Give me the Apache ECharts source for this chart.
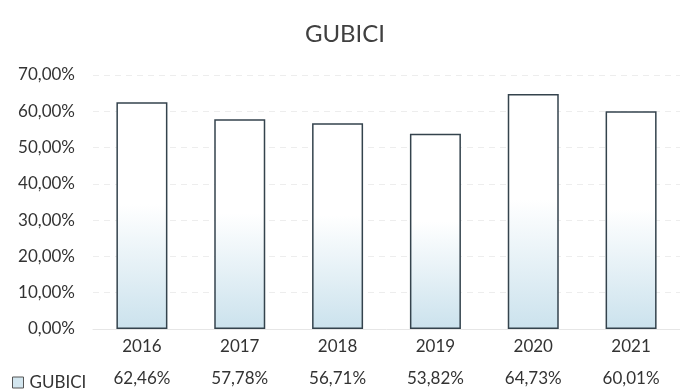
<!DOCTYPE html>
<html><head><meta charset="utf-8">
<script src="https://cdn.jsdelivr.net/npm/echarts@6/dist/echarts.min.js"></script>
<style>html,body{margin:0;padding:0;background:#fff}#c{width:680px;height:390px}</style>
</head><body><div id="c"></div>
<script>
const title = 'GUBICI';
const seriesName = 'GUBICI';
const years = ['2016', '2017', '2018', '2019', '2020', '2021'];
const values = [62.46, 57.78, 56.71, 53.82, 64.73, 60.01];
const yTicks = { min: 0, max: 70, interval: 10 };

const fmt = v => Number(v).toFixed(2).replace('.', ',') + '%';
const FONT = 'Lato, "Open Sans", sans-serif';
const chart = echarts.init(document.getElementById('c'));
chart.setOption({
  animation: false,
  title: { text: title, left: 340, textAlign: 'center', top: 17,
    textStyle: { fontFamily: FONT, fontWeight: 'normal', fontSize: 24, color: '#404040' } },
  legend: { left: 7, top: 369, itemWidth: 11, itemHeight: 11, itemGap: 4,
    data: [{ name: seriesName, icon: 'rect',
      itemStyle: { color: '#d3e6ef', borderColor: '#555', borderWidth: 1 } }],
    textStyle: { fontFamily: FONT, fontSize: 17, color: '#333', padding: [0, 0, 0, 1] } },
  grid: { left: 93, top: 75, bottom: 61, width: 595 },
  xAxis: [
    { type: 'category', data: years,
      axisLine: { lineStyle: { color: '#e6e6e6' } }, axisTick: { show: false },
      axisLabel: { fontFamily: FONT, fontSize: 17, color: '#333', margin: 9 } },
    { type: 'category', data: years, position: 'bottom', offset: 32,
      axisLine: { show: false }, axisTick: { show: false },
      axisLabel: { fontFamily: FONT, fontSize: 17, color: '#333', margin: 9,
        formatter: (v, i) => fmt(values[i]) } }
  ],
  yAxis: { type: 'value', min: yTicks.min, max: yTicks.max, interval: yTicks.interval,
    axisLine: { show: false }, axisTick: { show: false },
    splitLine: { lineStyle: { color: '#ededed', type: [6, 5] } },
    axisLabel: { fontFamily: FONT, fontSize: 17, color: '#333', margin: 18, formatter: v => fmt(v) } },
  series: [{ name: seriesName, type: 'bar', data: values, barWidth: 51,
    itemStyle: {
      color: new echarts.graphic.LinearGradient(0, 0, 0, 1, [
        { offset: 0, color: '#ffffff' }, { offset: 0.45, color: '#ffffff' },
        { offset: 1, color: '#cbe2ed' }]),
      borderColor: '#34434d', borderWidth: 1.5 } }]
});
</script></body></html>
